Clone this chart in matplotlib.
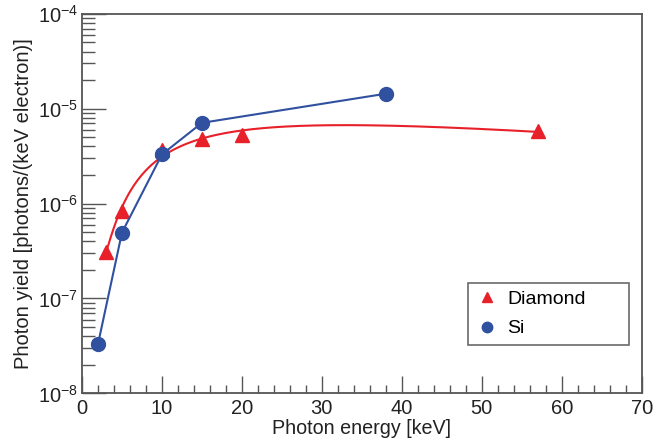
import numpy as np
import matplotlib
matplotlib.use("Agg")
import matplotlib.pyplot as plt
from matplotlib.ticker import LogLocator, MultipleLocator, NullFormatter

plt.rcParams['font.family'] = ['Liberation Sans', 'DejaVu Sans']
plt.rcParams['mathtext.fontset'] = 'custom'
plt.rcParams['mathtext.rm'] = 'Liberation Sans'

# Photon yield per keV per electron
diamond_energy = [3, 5, 10, 15, 20, 57]
diamond_yield = [3.1e-7, 8.4e-7, 3.7e-6, 4.8e-6, 5.3e-6, 5.8e-6]

si_energy = [2, 5, 10, 15, 38]
si_yield = [3.3e-8, 4.95e-7, 3.3e-6, 7.1e-6, 1.44e-5]

RED = '#e8202a'
BLUE = '#3050a0'


def basis(x):
    x = np.asarray(x, float)
    return np.column_stack([np.ones_like(x), x, 1 / x, 1 / x ** 2])


# least-squares fit of ln(yield) for the diamond trend curve
coef, *_ = np.linalg.lstsq(basis(diamond_energy), np.log(diamond_yield), rcond=None)
xs = np.linspace(min(diamond_energy), max(diamond_energy), 500)
ys = np.exp(basis(xs) @ coef)

fig = plt.figure(figsize=(6.72, 4.47), dpi=100)
ax = fig.add_axes([0.122, 0.12, 0.833, 0.849])

ax.plot(xs, ys, color=RED, lw=1.5, zorder=2)
ax.plot(diamond_energy, diamond_yield, ls='none', marker='^', ms=10,
        color=RED, mec=RED, zorder=3, label='Diamond')

ax.plot(si_energy, si_yield, color=BLUE, lw=1.5, zorder=4)
ax.plot(si_energy, si_yield, ls='none', marker='o', ms=10,
        color=BLUE, mec=BLUE, zorder=5, label='Si')

ax.set_yscale('log')
ax.set_xlim(0, 70)
ax.set_ylim(1e-8, 1e-4)

ax.xaxis.set_major_locator(MultipleLocator(10))
ax.xaxis.set_minor_locator(MultipleLocator(2))
ax.yaxis.set_major_locator(LogLocator(base=10, numticks=10))
ax.yaxis.set_minor_locator(LogLocator(base=10, subs=np.arange(2, 10), numticks=20))
ax.yaxis.set_minor_formatter(NullFormatter())

ax.tick_params(which='both', direction='in', top=False, right=False,
               colors='#555555', labelcolor='#222222', labelsize=14.5)
ax.tick_params(axis='x', which='major', length=12, width=1.0, pad=4)
ax.tick_params(axis='x', which='minor', length=6, width=1.0)
ax.tick_params(axis='y', which='major', length=17, width=1.0, pad=3)
ax.tick_params(axis='y', which='minor', length=9, width=1.0)
for s in ax.spines.values():
    s.set_color('#555555')
    s.set_linewidth(1.3)

ax.set_xlabel('Photon energy [keV]', fontsize=14.2, color='#222222', labelpad=1)
ax.set_ylabel('Photon yield [photons/(keV electron)]', fontsize=14.5,
              color='#222222', labelpad=3)

leg = ax.legend(loc='lower left', bbox_to_anchor=(0.689, 0.127, 0.288, 0.163),
                mode='expand', fontsize=14, frameon=True, fancybox=False,
                edgecolor='#444444', handlelength=1.2, handletextpad=0.45,
                borderpad=0.4, labelspacing=0.6, markerscale=0.75,
                borderaxespad=0)
leg.get_frame().set_linewidth(1.2)

fig.savefig('out.png', dpi=100)
